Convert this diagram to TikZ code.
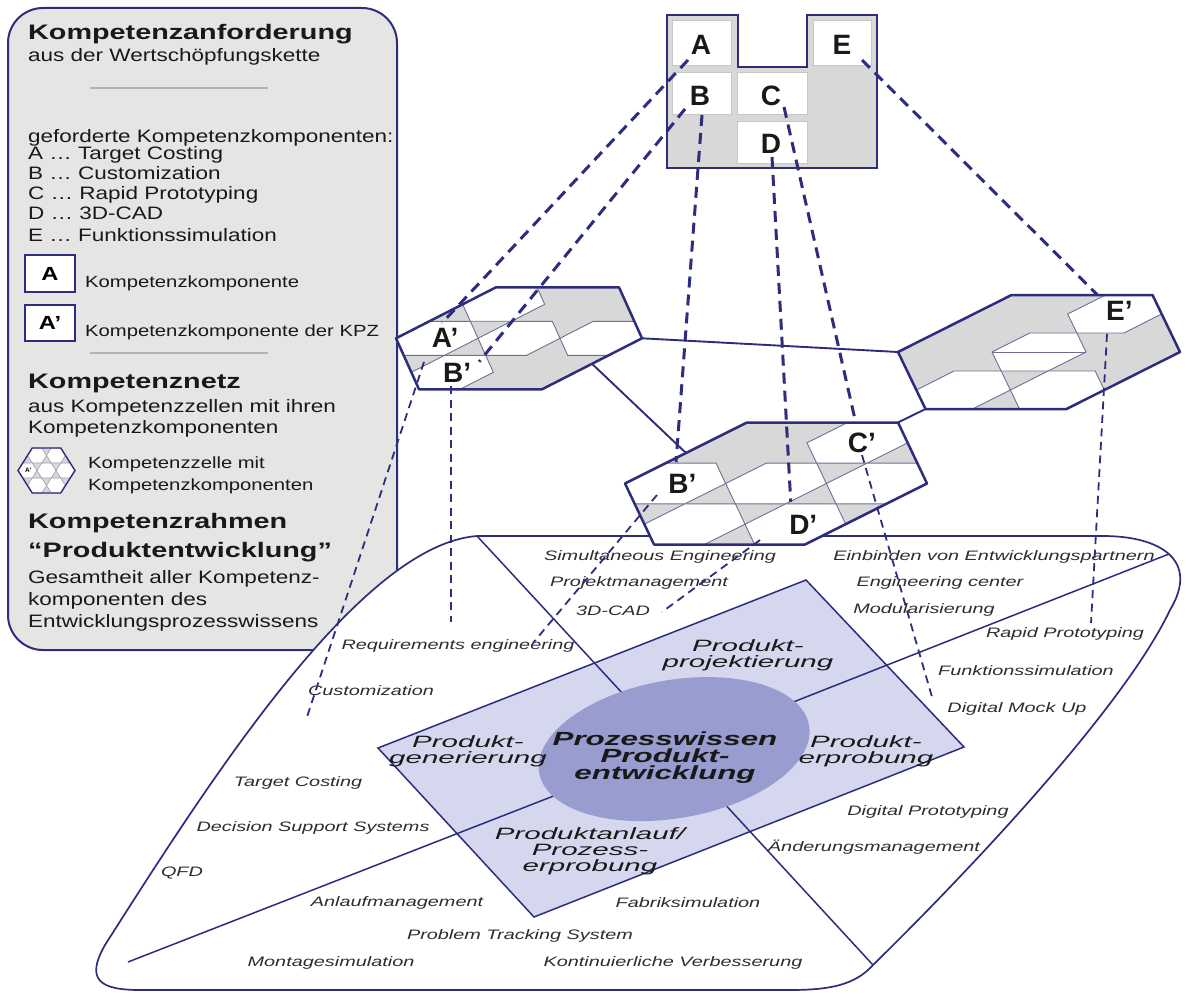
\documentclass[tikz,border=0pt]{standalone}
\usepackage{fontspec}
\setmainfont{Liberation Sans}
\newfontfamily\lgfont{Liberation Sans}[FakeStretch=1.25]
\newfontfamily\hdfont{Liberation Sans}[FakeStretch=1.37]
\newfontfamily\txtfont{Liberation Sans}[FakeStretch=1.45]
\newfontfamily\secfont{Liberation Sans}[FakeStretch=1.8]
\newfontfamily\midfont{Liberation Sans}[FakeStretch=1.65]

\definecolor{navy}{RGB}{45,45,125}
\definecolor{legendgray}{RGB}{229,229,228}
\definecolor{cellgray}{RGB}{216,216,216}
\definecolor{gridline}{RGB}{110,110,150}
\definecolor{lavender}{RGB}{213,215,238}
\definecolor{core}{RGB}{152,156,206}
\definecolor{txt}{RGB}{25,25,25}
\definecolor{itxt}{RGB}{45,45,45}

% outline of a competence cell, in the cell's own frame
\newcommand\bighex{(-1,0) -- (-0.5,1) -- (0.5,1) -- (1,0) -- (0.5,-1) -- (-0.5,-1) -- cycle}
% one competence component inside a cell, centred at (#1,#2)
\newcommand\comphex[2]{({#1+1/3},{#2}) -- ({#1+1/6},{#2+1/3}) -- ({#1-1/6},{#2+1/3}) -- ({#1-1/3},{#2}) -- ({#1-1/6},{#2-1/3}) -- ({#1+1/6},{#2-1/3}) -- cycle}

\begin{document}
\begin{tikzpicture}[x=1pt,y=-1pt,
  hexborder/.style={draw=navy,line width=2.5pt,line join=round},
  compcell/.style={fill=white,draw=gridline,line width=0.9pt},
  link/.style={draw=navy,line width=1.9pt},
  thickdash/.style={draw=navy,line width=3pt,dash pattern=on 11pt off 7pt},
  thindash/.style={draw=navy,line width=1.8pt,dash pattern=on 8pt off 5.5pt},
  letter/.style={font=\fontsize{28}{28}\selectfont\bfseries,text=txt,inner sep=0pt},
  lgbold/.style={font=\hdfont\bfseries\fontsize{21}{23}\selectfont,text=txt,anchor=base west,inner sep=0pt},
  lgtext/.style={font=\lgfont\fontsize{18}{20}\selectfont,text=txt,anchor=base west,inner sep=0pt},
  lgsmall/.style={font=\lgfont\fontsize{16.2}{18}\selectfont,text=txt,anchor=base west,inner sep=0pt},
  basetext/.style={font=\txtfont\itshape\fontsize{13.7}{15}\selectfont,text=itxt,inner sep=0pt},
  sector/.style={font=\secfont\itshape\fontsize{16.4}{16}\selectfont,text=txt,align=center,inner sep=0pt},
  separator/.style={draw=black!30,line width=1.2pt}
]
\useasboundingbox (0,0) rectangle (1186,995);

% ---------- legend ----------
\draw[fill=legendgray,draw=navy,line width=2pt,rounded corners=35pt] (8,8) rectangle (397,650);
\node[lgbold] (lk1) at (28,40) {Kompetenzanforderung};
\node[lgtext] (lk2) at (28,62) {aus der Wertschöpfungskette};
\draw[separator] (90,88) -- (268,88);
\node[lgtext] (lr0) at (28,143) {geforderte Kompetenzkomponenten:};
\node[lgtext] (lr1) at (28,160) {A … Target Costing};
\node[lgtext] (lr2) at (28,180) {B … Customization};
\node[lgtext] (lr3) at (28,200) {C … Rapid Prototyping};
\node[lgtext] (lr4) at (28,220) {D … 3D-CAD};
\node[lgtext] (lr5) at (28,241) {E … Funktionssimulation};
\node[draw=navy,fill=white,line width=1.5pt,minimum width=50pt,minimum height=37pt,inner sep=0pt,
      font=\lgfont\bfseries\fontsize{19}{19}\selectfont] (boxA) at (50,273.5) {A};
\node[lgsmall] (lbA) at (85,287) {Kompetenzkomponente};
\node[draw=navy,fill=white,line width=1.5pt,minimum width=50pt,minimum height=36pt,inner sep=0pt,
      font=\lgfont\bfseries\fontsize{19}{19}\selectfont] (boxAp) at (50,323) {A’};
\node[lgsmall] (lbAp) at (85,336) {Kompetenzkomponente der KPZ};
\draw[separator] (90,353) -- (268,353);
\node[lgbold] (ln1) at (28,388) {Kompetenznetz};
\node[lgtext] (ln2) at (28,412) {aus Kompetenzzellen mit ihren};
\node[lgtext] (ln3) at (28,433) {Kompetenzkomponenten};
% small cell symbol
\begin{scope}[shift={(46.5,470.5)},x={(28.5pt,0pt)},y={(0pt,22.5pt)}]
  \fill[cellgray] \bighex;
  \foreach \cx/\cy in {-0.3333/0.6667,0.3333/0.6667,-0.6667/0,0/0,0.6667/0,-0.3333/-0.6667,0.3333/-0.6667}
    \path[fill=white,draw=gridline!70,line width=0.6pt] \comphex{\cx}{\cy};
  \draw[draw=navy,line width=1.4pt] \bighex;
  \node[font=\bfseries\fontsize{6.5}{6.5}\selectfont,inner sep=0pt] (iconA) at (-0.64,0) {A’};
\end{scope}
\node[lgsmall] (lz1) at (88,468) {Kompetenzzelle mit};
\node[lgsmall] (lz2) at (88,490) {Kompetenzkomponenten};
\node[lgbold] (lf1) at (28,528) {Kompetenzrahmen};
\node[lgbold] (lf2) at (28,557) {“Produktentwicklung”};
\node[lgtext] (lf3) at (28,583) {Gesamtheit aller Kompetenz-};
\node[lgtext] (lf4) at (28,605) {komponenten des};
\node[lgtext] (lf5) at (28,627) {Entwicklungsprozesswissens};

% ---------- competence frame ----------
\draw[fill=white,draw=navy,line width=1.7pt]
  (1103,536) -- (477,536) .. controls (360,545) and (210,780) .. (105,945)
  .. controls (85,980) and (100,990) .. (140,990) -- (790,990)
  .. controls (830,990) and (855,985) .. (873,965)
  .. controls (975,865) and (1125,705) .. (1170,610)
  .. controls (1200,560) and (1160,536) .. (1103,536) -- cycle;
\coordinate (core) at (674,749);
\coordinate (fNW) at (477,536);
\coordinate (fNE) at (1169,554);
\coordinate (fSW) at (128,962);
\coordinate (fSE) at (873,965);
\fill[lavender] (806,580) -- (964,747) -- (534,917) -- (378,748) -- cycle;
\draw[navy,line width=1.5pt] (fNW) -- (core) (fNE) -- (core) (fSW) -- (core) (fSE) -- (core);
\draw[navy,line width=1.5pt] (806,580) -- (964,747) -- (534,917) -- (378,748) -- cycle;
\fill[core,rotate around={10:(core)}] (core) ellipse [x radius=137pt,y radius=69pt];

\node[basetext] (t01) at (660,557) {Simultaneous Engineering};
\node[basetext] (t02) at (639,583) {Projektmanagement};
\node[basetext] (t03) at (613,611) {3D-CAD};
\node[basetext] (t04) at (994,557) {Einbinden von Entwicklungspartnern};
\node[basetext] (t05) at (940,583) {Engineering center};
\node[basetext] (t06) at (924,610) {Modularisierung};
\node[basetext] (t07) at (1065,634) {Rapid Prototyping};
\node[basetext] (t08) at (1026,671) {Funktionssimulation};
\node[basetext] (t09) at (1017,709) {Digital Mock Up};
\node[basetext] (t10) at (458,646) {Requirements engineering};
\node[basetext] (t11) at (371,691) {Customization};
\node[basetext] (t12) at (298,783) {Target Costing};
\node[basetext] (t13) at (313,828) {Decision Support Systems};
\node[basetext] (t14) at (182,873) {QFD};
\node[basetext] (t15) at (397,903) {Anlaufmanagement};
\node[basetext] (t16) at (688,903) {Fabriksimulation};
\node[basetext] (t17) at (520,936) {Problem Tracking System};
\node[basetext] (t18) at (331,963) {Montagesimulation};
\node[basetext] (t19) at (673,963) {Kontinuierliche Verbesserung};
\node[basetext] (t20) at (928,812) {Digital Prototyping};
\node[basetext] (t21) at (874,847) {Änderungsmanagement};

\node[sector] (sP) at (748,655) {Produkt-\\projektierung};
\node[sector] (sE) at (866,751) {Produkt-\\erprobung};
\node[sector] (sG) at (468,751) {Produkt-\\generierung};
\node[sector] (sA) at (590,851) {Produktanlauf/\\Prozess-\\erprobung};
\node[font=\midfont\bfseries\itshape\fontsize{19}{17}\selectfont,text=txt,align=center,inner sep=0pt]
  (kern) at (665,758) {Prozesswissen\\Produkt-\\entwicklung};

% ---------- competence network ----------
\begin{scope}[shift={(519,338.3)},x={(123pt,0pt)},y={(38.5pt,51pt)}]
  \coordinate (h1R) at (1,0);
  \coordinate (h1M) at (0.75,-0.5);
  \coordinate (eA) at (-0.72,0.3);
  \coordinate (eB1) at (-0.18,-0.46);
\end{scope}
\begin{scope}[shift={(776,483.5)},x={(151pt,0pt)},y={(46.5pt,61pt)}]
  \coordinate (h2L) at (-0.75,0.5);
  \coordinate (h2T) at (0.5,1);
  \coordinate (eB2) at (-0.77,0.35);
  \coordinate (eC) at (0.22,1);
  \coordinate (eD) at (0.19,-0.3);
\end{scope}
\begin{scope}[shift={(1039,352)},x={(141pt,0pt)},y={(43pt,57pt)}]
  \coordinate (h3L) at (-1,0);
  \coordinate (h3B) at (-0.5,-1);
  \coordinate (eE) at (0.11,1);
\end{scope}
\draw[link] (h1R) -- (h3L);
\draw[link] (h1M) -- (h2L);
\draw[link] (h2T) -- (h3B);

% cell 1
\begin{scope}[shift={(519,338.3)},x={(123pt,0pt)},y={(38.5pt,51pt)}]
  \fill[cellgray] \bighex;
  \foreach \cx/\cy in {-0.3333/0.6667,-0.6667/0,0/0,0.6667/0,-0.3333/-0.6667}
    \path[compcell] \comphex{\cx}{\cy};
  \draw[hexborder] \bighex;
  \node[letter] (h1A) at (-0.6,0) {A’};
  \node[letter] (h1B) at (-0.29,-0.68) {B’};
\end{scope}
% cell 2
\begin{scope}[shift={(776,483.5)},x={(151pt,0pt)},y={(46.5pt,61pt)}]
  \fill[cellgray] \bighex;
  \foreach \cx/\cy in {0.3333/0.6667,-0.6667/0,0/0,0.6667/0,-0.3333/-0.6667,0.3333/-0.6667}
    \path[compcell] \comphex{\cx}{\cy};
  \draw[hexborder] \bighex;
  \node[letter] (h2B) at (-0.62,0) {B’};
  \node[letter] (h2C) at (0.365,0.66) {C’};
  \node[letter] (h2D) at (0.39,-0.68) {D’};
\end{scope}
% cell 3
\begin{scope}[shift={(1039,352)},x={(141pt,0pt)},y={(43pt,57pt)}]
  \fill[cellgray] \bighex;
  \foreach \cx/\cy in {0.3333/0.6667,0/0,-0.3333/-0.6667,0.3333/-0.6667}
    \path[compcell] \comphex{\cx}{\cy};
  \draw[gridline,line width=0.9pt] (-0.3333,0) -- (0.3333,0);
  \draw[hexborder] \bighex;
  \node[letter] (h3E) at (0.35,0.72) {E’};
\end{scope}

% ---------- required components ----------
\draw[fill=cellgray,draw=navy,line width=2pt,line join=miter]
  (667,15) -- (738,15) -- (738,67) -- (807,67) -- (807,15) -- (877,15) -- (877,168) -- (667,168) -- cycle;
\foreach \xa/\ya/\xb/\yb in {672/21/731/66, 813/21/871/66, 672/73/731/115, 737/73/807/115, 737/122/807/164}
  \draw[fill=white,draw=black!22,line width=1pt] (\xa,\ya) rectangle (\xb,\yb);
\node[letter] (tA) at (701,45) {A};
\node[letter] (tE) at (842,45) {E};
\node[letter] (tB) at (700,96) {B};
\node[letter] (tC) at (771,96) {C};
\node[letter] (tD) at (771,144) {D};

% ---------- assignments ----------
\coordinate (sAc) at (688,60);
\coordinate (sB1) at (685,109);
\coordinate (sB2) at (702,115);
\coordinate (sCc) at (784,107);
\coordinate (sDc) at (772,157);
\coordinate (sEc) at (862,60);
\draw[thickdash] (sAc) -- (eA);
\draw[thickdash] (sB1) -- (eB1);
\draw[thickdash] (sB2) -- (eB2);
\draw[thickdash] (sCc) -- (eC);
\draw[thickdash] (sDc) -- (eD);
\draw[thickdash] (sEc) -- (eE);

\coordinate (u1) at (424,362);  \coordinate (v1) at (306,720);
\coordinate (u2) at (451,386);  \coordinate (v2) at (451,622);
\coordinate (u3) at (657,495);  \coordinate (v3) at (533,643);
\coordinate (u4) at (760,540);  \coordinate (v4) at (662,612);
\coordinate (u5) at (862,455);  \coordinate (v5) at (932,697);
\coordinate (u6) at (1107,334); \coordinate (v6) at (1091,623);
\foreach \i in {1,...,6} \draw[thindash] (u\i) -- (v\i);
\end{tikzpicture}
\end{document}
